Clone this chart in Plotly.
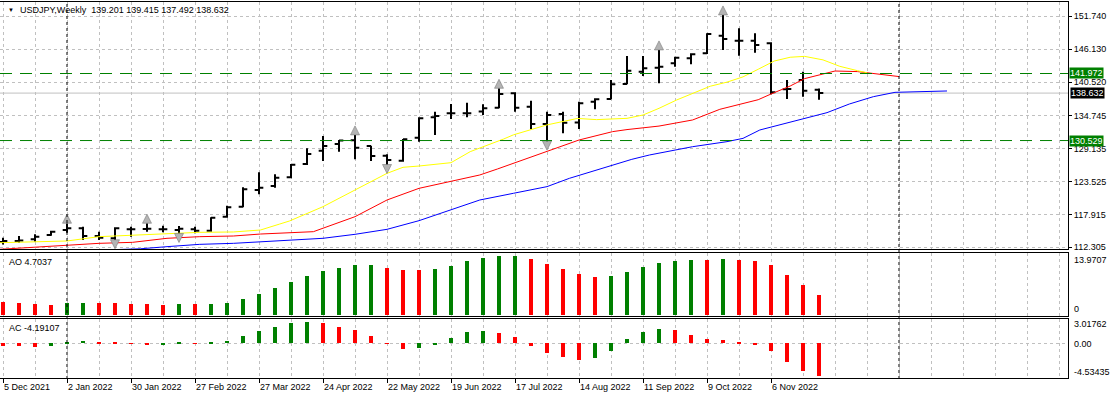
import plotly.graph_objects as go
from plotly.subplots import make_subplots

# ---------------- data ----------------
bar_idx = list(range(52))
opens = [113.2, 113.4, 113.66, 114.4, 115.26, 115.54, 114.23, 113.83, 115.37, 115.43,
         115.37, 115.26, 115.37, 115.14, 117.53, 119.24, 122.09, 122.77, 124.25, 126.52,
         128.8, 129.94, 130.6, 129.6, 127.95, 127.09, 131.02, 134.49, 135.17, 135.17,
         135.5, 136.14, 138.59, 136.31, 133.35, 135.06, 133.6, 137.17, 137.62, 140.18,
         142.29, 142.97, 143.71, 144.56, 145.42, 148.43, 147.58, 147.58, 147.12, 139.27,
         140.87, 139.201]
highs = [113.95, 114.23, 114.52, 115.14, 116.4, 115.83, 114.97, 115.71, 115.83, 116.4,
         116.0, 115.94, 115.83, 117.42, 119.41, 122.54, 125.1, 124.76, 126.53, 129.2,
         131.31, 130.62, 131.48, 129.65, 128.17, 130.79, 134.49, 135.46, 136.77, 137.0,
         136.71, 139.44, 138.76, 137.34, 135.46, 135.46, 137.17, 137.74, 140.87, 144.96,
         144.96, 145.99, 144.85, 145.42, 148.83, 151.96, 149.69, 148.83, 147.3, 140.87,
         142.29, 139.415]
lows = [112.8, 113.1, 113.27, 114.29, 114.8, 113.55, 113.55, 113.5, 114.12, 114.97,
        114.86, 114.57, 114.69, 114.97, 117.36, 119.13, 121.35, 122.49, 124.08, 126.35,
        127.04, 128.63, 127.32, 127.04, 126.35, 126.92, 130.34, 131.48, 134.21, 134.49,
        134.89, 136.03, 135.46, 132.44, 130.34, 131.76, 132.5, 135.86, 137.57, 140.12,
        141.55, 140.3, 143.14, 143.54, 145.3, 145.99, 145.02, 145.53, 138.42, 137.62,
        138.02, 137.492]
closes = [113.4, 113.45, 114.12, 114.97, 115.54, 114.23, 113.95, 115.54, 115.37, 115.49,
          115.37, 115.49, 115.14, 117.36, 119.13, 122.2, 122.49, 124.19, 126.41, 128.23,
          129.6, 130.52, 129.3, 127.89, 127.2, 130.74, 134.32, 134.72, 135.17, 135.17,
          136.03, 138.48, 136.14, 133.35, 134.89, 133.58, 136.88, 137.57, 140.13, 142.46,
          142.86, 143.14, 144.68, 145.25, 148.72, 147.87, 147.58, 146.84, 138.76, 139.33,
          139.04, 138.632]

up_fractals = [4, 9, 22, 31, 41, 45]
down_fractals = [7, 11, 24, 34]

lips_x = [-0.2, 4, 6, 8.1, 10.25, 12.3, 14.4, 16.1, 17.3, 17.9, 20, 22, 24, 25, 26, 28, 29.2,
          31.3, 31.9, 34, 35.9, 37.1, 38.1, 39, 40, 41, 42.1, 43, 44.2, 45.25, 46.25, 47.2,
          48.2, 49.2, 50.1, 51.25, 52.3, 53.4, 54]
lips_y = [113.09, 113.38, 114.12, 114.4, 114.57, 114.86, 114.92, 115.26, 116.28, 116.79,
          119.24, 122.09, 124.93, 125.96, 126.18, 126.75, 128.63, 130.8, 131.5, 133.2,
          134.3, 134.1, 134.15, 134.32, 134.89, 136.03, 137.45, 138.5, 139.8, 140.5,
          141.4, 142.7, 144.1, 144.75, 144.9, 144.3, 143.2, 142.46, 142.1]

teeth_x = [-0.2, 4, 6, 8.1, 10.25, 12.3, 14.4, 16.1, 17.9, 19.4, 22, 24, 26, 28, 29.8, 30.9,
           31.9, 34, 35.4, 36, 38.1, 39, 41, 43.1, 44.8, 46.25, 47.2, 48, 49.2, 50.1, 51.25,
           52, 53.4, 54.6, 56]
teeth_y = [111.96, 112.58, 112.98, 113.15, 113.84, 114.12, 114.23, 114.57, 114.74, 114.97,
           117.53, 120.38, 122.37, 123.51, 124.65, 125.67, 126.64, 128.55, 130.0, 130.62,
           132.05, 132.4, 133.0, 134.04, 135.86, 136.88, 137.5, 138.47, 139.84, 141.1,
           141.9, 142.4, 142.3, 141.9, 141.45]

jaw_x = [6.9, 8.6, 10.25, 12.3, 14.4, 16.1, 17.9, 20, 22, 24, 26, 28, 29.8, 31.9, 34, 35.4,
         37.3, 39.3, 40.4, 41, 43.1, 45.25, 46.25, 47.3, 49.4, 51.5, 52.9, 54.4, 55.75, 57.5, 59]
jaw_y = [111.9, 112.05, 112.41, 112.81, 112.98, 113.21, 113.55, 113.84, 114.52, 115.37,
         116.85, 118.67, 120.38, 121.52, 122.66, 124.08, 125.61, 127.32, 128.06, 128.35,
         129.48, 130.34, 130.9, 132.33, 133.75, 135.29, 136.77, 138.02, 138.76, 138.93, 138.99]

ao_values = [3.0, 2.92, 2.6, 2.37, 2.92, 2.95, 2.9, 2.88, 2.6, 2.55,
             2.37, 2.6, 2.58, 2.62, 2.92, 3.79, 5.05, 6.39, 7.81, 9.23,
             10.42, 11.13, 11.84, 11.9, 11.13, 10.66, 10.6, 10.89, 11.6, 12.79,
             13.5, 13.9, 13.9707, 13.26, 12.08, 10.89, 9.71, 9.0, 9.23, 10.18,
             11.37, 12.31, 12.79, 13.05, 13.0, 13.26, 13.02, 12.79, 11.84, 9.47,
             7.1, 4.7037]
ac_values = [-0.34, -0.36, -0.51, -0.34, 0.21, 0.34, 0.17, 0.15, -0.09, -0.21,
             -0.17, 0.04, -0.04, 0.17, 0.3, 0.94, 1.62, 2.09, 2.65, 2.78,
             2.65, 2.09, 1.71, 0.94, -0.09, -0.73, -0.56, -0.17, 0.68, 1.45,
             1.58, 1.32, 0.81, -0.30, -1.20, -1.71, -2.09, -1.84, -0.94, 0.56,
             1.45, 1.84, 1.71, 1.07, 0.56, 0.43, 0.17, -0.17, -0.94, -2.35,
             -3.50, -4.19107]

level_high = 141.972
level_low = 130.529
bid_price = 138.632

price_ticks = [112.305, 117.915, 123.525, 129.135, 134.745, 140.520, 146.130, 151.740]
date_tick_idx = [0, 4, 8, 12, 16, 20, 24, 28, 32, 36, 40, 44, 48]
date_tick_labels = ["5 Dec 2021", "2 Jan 2022", "30 Jan 2022", "27 Feb 2022", "27 Mar 2022",
                    "24 Apr 2022", "22 May 2022", "19 Jun 2022", "17 Jul 2022", "14 Aug 2022",
                    "11 Sep 2022", "9 Oct 2022", "6 Nov 2022"]
separator_idx = [4, 56]

title_text = "USDJPY,Weekly  139.201 139.415 137.492 138.632"
ao_label = "AO 4.7037"
ac_label = "AC -4.19107"
ao_scale = ["13.9707", "0"]
ac_scale = ["3.01762", "0.00", "-4.53435"]

# ---------------- styling ----------------
FONT = "Liberation Sans, Arial, sans-serif"
GREEN = "#008000"
RED = "#ff0000"
GRID = "#c0c0c0"


def hist_colors(vals, first):
    cols = [first]
    for k in range(1, len(vals)):
        cols.append(GREEN if vals[k] > vals[k - 1] else RED)
    return cols


def py(ypx):
    return (379 - ypx) / 377.0


fig = make_subplots(rows=3, cols=1, shared_xaxes=True, vertical_spacing=0.0)

fig.add_trace(go.Ohlc(x=bar_idx, open=opens, high=highs, low=lows, close=closes,
                      increasing=dict(line=dict(color="black", width=2)),
                      decreasing=dict(line=dict(color="black", width=2)),
                      tickwidth=0.27, showlegend=False, hoverinfo="skip"), row=1, col=1)

fig.add_trace(go.Scatter(x=jaw_x, y=jaw_y, mode="lines", line=dict(color="#0000ff", width=1),
                         showlegend=False, hoverinfo="skip"), row=1, col=1)
fig.add_trace(go.Scatter(x=teeth_x, y=teeth_y, mode="lines", line=dict(color="#ff0000", width=1),
                         showlegend=False, hoverinfo="skip"), row=1, col=1)
fig.add_trace(go.Scatter(x=lips_x, y=lips_y, mode="lines", line=dict(color="#ffff00", width=1),
                         showlegend=False, hoverinfo="skip"), row=1, col=1)

fig.add_trace(go.Scatter(x=up_fractals, y=[highs[k] + 1.55 for k in up_fractals], mode="markers",
                         marker=dict(symbol="arrow-up", size=9, color="#b4b4b4",
                                     line=dict(color="#787878", width=0.6)),
                         showlegend=False, hoverinfo="skip"), row=1, col=1)
fig.add_trace(go.Scatter(x=down_fractals, y=[lows[k] - 1.45 for k in down_fractals], mode="markers",
                         marker=dict(symbol="arrow-down", size=9, color="#b4b4b4",
                                     line=dict(color="#787878", width=0.6)),
                         showlegend=False, hoverinfo="skip"), row=1, col=1)

fig.add_trace(go.Bar(x=bar_idx, y=ao_values, marker=dict(color=hist_colors(ao_values, RED), line=dict(width=0)),
                     width=0.19, showlegend=False, hoverinfo="skip"), row=2, col=1)
fig.add_trace(go.Bar(x=bar_idx, y=ac_values, marker=dict(color=hist_colors(ac_values, RED), line=dict(width=0)),
                     width=0.19, showlegend=False, hoverinfo="skip"), row=3, col=1)

x_range = [-0.1875, 66.5625]
minor_vals = [v for v in range(0, 68, 2) if v % 4 != 0] + [v for v in range(52, 68, 4)]

for r in (1, 2, 3):
    fig.update_xaxes(range=x_range, showline=True, mirror=True, linecolor="black", linewidth=1,
                     tickmode="array", tickvals=date_tick_idx, ticktext=date_tick_labels,
                     showgrid=True, gridcolor=GRID, griddash="3px,3px", gridwidth=1,
                     minor=dict(tickmode="array", tickvals=minor_vals, showgrid=True,
                                gridcolor=GRID, griddash="3px,3px", gridwidth=1, ticks=""),
                     zeroline=False, rangeslider=dict(visible=False),
                     showticklabels=(r == 3), ticks="outside" if r == 3 else "",
                     ticklen=4, tickcolor="black", ticklabelposition="outside right",
                     tickfont=dict(family=FONT, size=9, color="black"),
                     row=r, col=1)

fig.update_yaxes(domain=[py(249), py(2)], range=[112.013, 154.181], side="right",
                 tickmode="array", tickvals=price_ticks, ticktext=["%.3f" % v for v in price_ticks],
                 showline=True, mirror=True, linecolor="black", linewidth=1,
                 showgrid=True, gridcolor=GRID, griddash="3px,3px", zeroline=False,
                 ticks="outside", ticklen=3, tickcolor="black",
                 tickfont=dict(family=FONT, size=9, color="black"), row=1, col=1)
fig.update_yaxes(domain=[py(316), py(253)], range=[-0.237, 14.68], side="right",
                 tickmode="array", tickvals=[0], showticklabels=False,
                 showline=True, mirror=True, linecolor="black", linewidth=1,
                 showgrid=True, gridcolor=GRID, griddash="3px,3px", zeroline=False,
                 ticks="", row=2, col=1)
fig.update_yaxes(domain=[py(378), py(319)], range=[-4.449, 3.115], side="right",
                 tickmode="array", tickvals=[0], showticklabels=False,
                 showline=True, mirror=True, linecolor="black", linewidth=1,
                 showgrid=True, gridcolor=GRID, griddash="3px,3px", zeroline=False,
                 ticks="", row=3, col=1)

shapes = [
    dict(type="line", xref="paper", x0=0, x1=1, yref="y", y0=level_high, y1=level_high,
         line=dict(color=GREEN, width=1, dash="12px,8px"), layer="above"),
    dict(type="line", xref="paper", x0=0, x1=1, yref="y", y0=level_low, y1=level_low,
         line=dict(color=GREEN, width=1, dash="12px,8px"), layer="above"),
    dict(type="line", xref="paper", x0=0, x1=1, yref="y", y0=bid_price, y1=bid_price,
         line=dict(color="#c0c0c0", width=1), layer="below"),
]
for s in separator_idx:
    shapes.append(dict(type="line", xref="x", x0=s, x1=s, yref="paper", y0=0, y1=1,
                       line=dict(color="black", width=1, dash="3px,3px"), layer="above"))

small = dict(family=FONT, size=9, color="black")
annotations = [
    dict(xref="paper", yref="paper", x=6 / 1068, y=py(10), text="▼", showarrow=False,
         xanchor="left", yanchor="middle", font=dict(family=FONT, size=6, color="black")),
    dict(xref="paper", yref="paper", x=18 / 1068, y=py(10), text=title_text, showarrow=False,
         xanchor="left", yanchor="middle", font=small),
    dict(xref="paper", yref="paper", x=7 / 1068, y=py(262), text=ao_label, showarrow=False,
         xanchor="left", yanchor="middle", font=small),
    dict(xref="paper", yref="paper", x=7 / 1068, y=py(328), text=ac_label, showarrow=False,
         xanchor="left", yanchor="middle", font=small),
    dict(xref="paper", yref="y", x=1, y=level_high, text="%.3f" % level_high, showarrow=False,
         xanchor="left", yanchor="middle", xshift=1, yshift=1, bgcolor=GREEN, borderpad=0,
         height=10, font=dict(family=FONT, size=9, color="white")),
    dict(xref="paper", yref="y", x=1, y=level_low, text="%.3f" % level_low, showarrow=False,
         xanchor="left", yanchor="middle", xshift=1, bgcolor=GREEN, borderpad=0,
         height=10, font=dict(family=FONT, size=9, color="white")),
    dict(xref="paper", yref="y", x=1, y=bid_price, text="%.3f" % bid_price, showarrow=False,
         xanchor="left", yanchor="middle", xshift=2, bgcolor="black", borderpad=0,
         height=10, font=dict(family=FONT, size=9, color="white")),
    dict(xref="paper", yref="paper", x=1, y=py(260), text=ao_scale[0], showarrow=False,
         xanchor="left", yanchor="middle", xshift=4, font=small),
    dict(xref="paper", yref="paper", x=1, y=py(309), text=ao_scale[1], showarrow=False,
         xanchor="left", yanchor="middle", xshift=4, font=small),
    dict(xref="paper", yref="paper", x=1, y=py(324), text=ac_scale[0], showarrow=False,
         xanchor="left", yanchor="middle", xshift=4, font=small),
    dict(xref="paper", yref="paper", x=1, y=py(343.5), text=ac_scale[1], showarrow=False,
         xanchor="left", yanchor="middle", xshift=4, font=small),
    dict(xref="paper", yref="paper", x=1, y=py(372), text=ac_scale[2], showarrow=False,
         xanchor="left", yanchor="middle", xshift=4, font=small),
]

fig.update_layout(width=1114, height=399, margin=dict(l=0, r=46, t=2, b=20),
                  paper_bgcolor="white", plot_bgcolor="white", bargap=0,
                  shapes=shapes, annotations=annotations, showlegend=False,
                  font=dict(family=FONT, size=9, color="black"))

fig.write_html("out.html", config={"displayModeBar": False},
               post_script="document.body.style.margin='0';document.body.style.padding='0';"
                           "document.body.style.overflow='hidden';")
